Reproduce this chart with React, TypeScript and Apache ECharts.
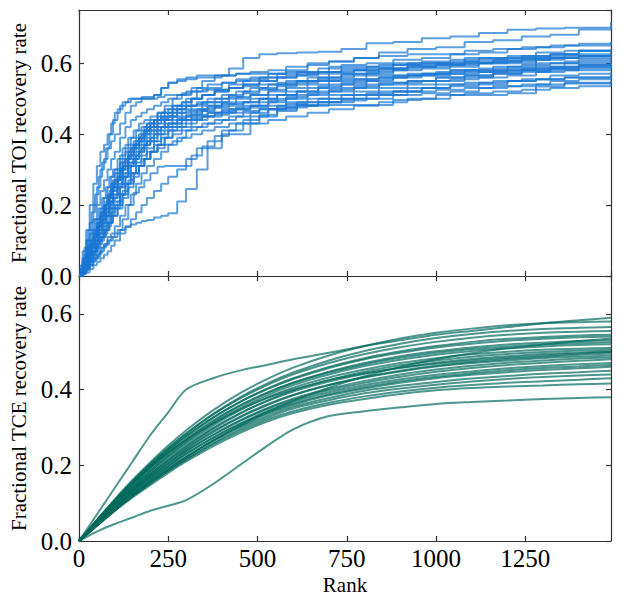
import React, { useEffect, useRef } from "react";
import * as echarts from "echarts";

// ---------- axes ----------
const X_MAX = 1490;
const X_INTERVAL = 250;
const TOI_Y_MAX = 0.75;
const TCE_Y_MAX = 0.7;
const Y_INTERVAL = 0.2;

// ---------- top panel: TOI recovery (step curves) ----------
const TOI_RANKS_A = [0, 10, 20, 30, 40, 50, 60, 70, 80, 90, 100, 115, 130, 145, 160, 175, 190, 210, 230, 250, 275, 300, 330, 360, 400, 440, 480, 530, 580, 640, 700, 770, 840, 920, 1000, 1080, 1160, 1240, 1320, 1400, 1490];
const TOI_RANKS_B = [0, 5, 15, 25, 35, 45, 55, 65, 75, 85, 95, 108, 122, 138, 153, 168, 183, 200, 220, 240, 262, 288, 315, 345, 380, 420, 460, 505, 555, 610, 670, 735, 805, 880, 960, 1040, 1120, 1200, 1280, 1360, 1490];

const TOI_CURVES_A = [
  [0, 0.07, 0.13, 0.2, 0.26, 0.31, 0.35, 0.37, 0.4, 0.43, 0.46, 0.48, 0.49, 0.5, 0.5, 0.505, 0.505, 0.51, 0.53, 0.545, 0.555, 0.56, 0.565, 0.565, 0.565, 0.57, 0.57, 0.57, 0.575, 0.575, 0.59, 0.59, 0.595, 0.6, 0.6, 0.615, 0.615, 0.62, 0.625, 0.635, 0.635],
  [0, 0.05, 0.1, 0.15, 0.2, 0.25, 0.3, 0.33, 0.36, 0.38, 0.4, 0.43, 0.46, 0.48, 0.49, 0.5, 0.5, 0.51, 0.53, 0.545, 0.55, 0.555, 0.56, 0.56, 0.565, 0.57, 0.575, 0.58, 0.59, 0.6, 0.605, 0.615, 0.62, 0.625, 0.625, 0.635, 0.64, 0.645, 0.65, 0.655, 0.66],
  [0, 0.03, 0.06, 0.09, 0.12, 0.15, 0.18, 0.2, 0.23, 0.26, 0.29, 0.32, 0.35, 0.37, 0.39, 0.41, 0.43, 0.44, 0.46, 0.47, 0.48, 0.5, 0.52, 0.53, 0.545, 0.555, 0.56, 0.57, 0.58, 0.595, 0.605, 0.615, 0.63, 0.64, 0.645, 0.66, 0.665, 0.675, 0.68, 0.695, 0.70],
  [0, 0.02, 0.05, 0.08, 0.11, 0.14, 0.17, 0.19, 0.22, 0.24, 0.27, 0.3, 0.33, 0.35, 0.37, 0.39, 0.41, 0.43, 0.44, 0.45, 0.47, 0.48, 0.49, 0.5, 0.51, 0.52, 0.53, 0.54, 0.55, 0.56, 0.57, 0.58, 0.585, 0.595, 0.6, 0.605, 0.61, 0.615, 0.625, 0.635, 0.64],
  [0, 0.03, 0.06, 0.1, 0.13, 0.16, 0.19, 0.22, 0.25, 0.28, 0.3, 0.34, 0.37, 0.39, 0.41, 0.42, 0.43, 0.44, 0.445, 0.45, 0.46, 0.465, 0.47, 0.48, 0.49, 0.5, 0.51, 0.525, 0.54, 0.55, 0.56, 0.57, 0.58, 0.59, 0.595, 0.6, 0.605, 0.61, 0.615, 0.62, 0.625],
  [0, 0.01, 0.03, 0.05, 0.07, 0.1, 0.12, 0.14, 0.17, 0.19, 0.21, 0.25, 0.28, 0.31, 0.34, 0.36, 0.38, 0.4, 0.42, 0.43, 0.445, 0.455, 0.465, 0.475, 0.485, 0.49, 0.5, 0.51, 0.52, 0.53, 0.54, 0.55, 0.56, 0.57, 0.575, 0.58, 0.59, 0.595, 0.6, 0.61, 0.615],
  [0, 0.01, 0.02, 0.04, 0.06, 0.08, 0.1, 0.12, 0.14, 0.17, 0.19, 0.23, 0.26, 0.29, 0.32, 0.34, 0.36, 0.38, 0.4, 0.42, 0.43, 0.44, 0.45, 0.46, 0.47, 0.475, 0.48, 0.49, 0.5, 0.51, 0.52, 0.53, 0.54, 0.55, 0.56, 0.565, 0.575, 0.58, 0.585, 0.595, 0.6],
  [0, 0.01, 0.03, 0.05, 0.07, 0.09, 0.11, 0.13, 0.15, 0.18, 0.2, 0.23, 0.26, 0.29, 0.31, 0.33, 0.35, 0.37, 0.39, 0.41, 0.42, 0.43, 0.44, 0.45, 0.46, 0.47, 0.48, 0.495, 0.505, 0.515, 0.525, 0.535, 0.545, 0.55, 0.56, 0.565, 0.57, 0.575, 0.58, 0.585, 0.59],
  [0, 0.02, 0.04, 0.07, 0.09, 0.12, 0.14, 0.17, 0.19, 0.21, 0.23, 0.26, 0.29, 0.32, 0.35, 0.37, 0.39, 0.41, 0.42, 0.43, 0.44, 0.45, 0.455, 0.46, 0.465, 0.47, 0.475, 0.48, 0.485, 0.49, 0.5, 0.51, 0.52, 0.53, 0.54, 0.545, 0.55, 0.555, 0.565, 0.57, 0.575],
  [0, 0.01, 0.02, 0.03, 0.05, 0.06, 0.08, 0.09, 0.11, 0.12, 0.14, 0.17, 0.2, 0.23, 0.26, 0.29, 0.31, 0.33, 0.35, 0.37, 0.39, 0.41, 0.42, 0.43, 0.44, 0.45, 0.46, 0.47, 0.475, 0.48, 0.49, 0.5, 0.51, 0.52, 0.525, 0.53, 0.535, 0.54, 0.55, 0.555, 0.56],
  [0, 0.01, 0.02, 0.03, 0.045, 0.055, 0.07, 0.085, 0.1, 0.11, 0.12, 0.13, 0.138, 0.145, 0.15, 0.155, 0.158, 0.165, 0.17, 0.177, 0.21, 0.245, 0.3, 0.36, 0.4, 0.4, 0.43, 0.44, 0.45, 0.46, 0.47, 0.48, 0.49, 0.5, 0.51, 0.515, 0.52, 0.525, 0.53, 0.535, 0.54],
  [0, 0.005, 0.01, 0.02, 0.03, 0.04, 0.05, 0.06, 0.07, 0.085, 0.1, 0.12, 0.14, 0.16, 0.18, 0.2, 0.22, 0.24, 0.26, 0.28, 0.3, 0.33, 0.36, 0.38, 0.41, 0.43, 0.45, 0.47, 0.49, 0.5, 0.51, 0.52, 0.53, 0.54, 0.55, 0.56, 0.57, 0.58, 0.585, 0.59, 0.6],
  [0, 0.02, 0.05, 0.08, 0.11, 0.14, 0.17, 0.2, 0.22, 0.25, 0.27, 0.3, 0.33, 0.36, 0.38, 0.4, 0.42, 0.44, 0.45, 0.46, 0.47, 0.48, 0.485, 0.49, 0.5, 0.505, 0.51, 0.52, 0.53, 0.54, 0.55, 0.555, 0.56, 0.565, 0.57, 0.575, 0.58, 0.585, 0.59, 0.595, 0.6],
  [0, 0.04, 0.08, 0.12, 0.16, 0.2, 0.24, 0.27, 0.3, 0.33, 0.35, 0.39, 0.42, 0.44, 0.45, 0.46, 0.47, 0.48, 0.49, 0.5, 0.51, 0.52, 0.53, 0.54, 0.545, 0.55, 0.555, 0.56, 0.565, 0.57, 0.575, 0.58, 0.585, 0.59, 0.595, 0.6, 0.605, 0.61, 0.615, 0.62, 0.62],
];

const TOI_CURVES_B = [
  [0, 0.03, 0.08, 0.13, 0.18, 0.23, 0.28, 0.32, 0.36, 0.4, 0.44, 0.47, 0.49, 0.5, 0.5, 0.5, 0.5, 0.5, 0.505, 0.51, 0.51, 0.515, 0.52, 0.525, 0.525, 0.53, 0.535, 0.54, 0.545, 0.55, 0.55, 0.555, 0.565, 0.565, 0.57, 0.58, 0.58, 0.585, 0.59, 0.6, 0.605],
  [0, 0.01, 0.04, 0.07, 0.09, 0.12, 0.14, 0.17, 0.2, 0.22, 0.25, 0.28, 0.31, 0.34, 0.37, 0.39, 0.42, 0.44, 0.46, 0.48, 0.5, 0.51, 0.53, 0.55, 0.565, 0.585, 0.615, 0.625, 0.628, 0.63, 0.632, 0.64, 0.656, 0.66, 0.67, 0.675, 0.685, 0.694, 0.698, 0.70, 0.716],
  [0, 0.02, 0.05, 0.08, 0.1, 0.13, 0.16, 0.19, 0.21, 0.24, 0.27, 0.3, 0.33, 0.36, 0.38, 0.4, 0.41, 0.42, 0.44, 0.45, 0.47, 0.48, 0.5, 0.51, 0.525, 0.54, 0.55, 0.56, 0.57, 0.575, 0.585, 0.595, 0.6, 0.61, 0.615, 0.625, 0.63, 0.64, 0.645, 0.65, 0.66],
  [0, 0.01, 0.03, 0.06, 0.08, 0.11, 0.13, 0.16, 0.18, 0.21, 0.23, 0.26, 0.29, 0.32, 0.34, 0.36, 0.38, 0.4, 0.42, 0.44, 0.46, 0.47, 0.48, 0.49, 0.5, 0.51, 0.52, 0.53, 0.54, 0.55, 0.56, 0.57, 0.575, 0.585, 0.59, 0.595, 0.6, 0.605, 0.615, 0.62, 0.63],
  [0, 0.01, 0.04, 0.06, 0.09, 0.11, 0.14, 0.16, 0.19, 0.21, 0.24, 0.27, 0.3, 0.33, 0.36, 0.38, 0.4, 0.42, 0.43, 0.44, 0.45, 0.46, 0.47, 0.48, 0.49, 0.505, 0.515, 0.525, 0.535, 0.545, 0.555, 0.565, 0.57, 0.58, 0.585, 0.59, 0.6, 0.6, 0.61, 0.615, 0.62],
  [0, 0.02, 0.05, 0.08, 0.1, 0.13, 0.15, 0.18, 0.2, 0.23, 0.25, 0.28, 0.31, 0.34, 0.36, 0.38, 0.4, 0.41, 0.42, 0.43, 0.44, 0.45, 0.46, 0.47, 0.48, 0.485, 0.49, 0.5, 0.51, 0.52, 0.535, 0.545, 0.555, 0.565, 0.57, 0.58, 0.585, 0.59, 0.6, 0.605, 0.61],
  [0, 0.01, 0.04, 0.06, 0.08, 0.1, 0.13, 0.15, 0.17, 0.19, 0.22, 0.25, 0.28, 0.31, 0.33, 0.35, 0.37, 0.38, 0.4, 0.41, 0.42, 0.44, 0.455, 0.465, 0.475, 0.48, 0.49, 0.5, 0.51, 0.52, 0.53, 0.54, 0.55, 0.56, 0.565, 0.57, 0.575, 0.58, 0.585, 0.59, 0.595],
  [0, 0.01, 0.02, 0.04, 0.05, 0.07, 0.09, 0.11, 0.13, 0.15, 0.17, 0.2, 0.23, 0.26, 0.29, 0.31, 0.33, 0.35, 0.37, 0.39, 0.41, 0.42, 0.44, 0.45, 0.46, 0.47, 0.48, 0.49, 0.5, 0.51, 0.52, 0.53, 0.54, 0.545, 0.55, 0.555, 0.56, 0.565, 0.575, 0.58, 0.585],
  [0, 0.01, 0.02, 0.04, 0.06, 0.08, 0.1, 0.11, 0.13, 0.15, 0.17, 0.19, 0.22, 0.25, 0.28, 0.31, 0.33, 0.35, 0.37, 0.39, 0.4, 0.41, 0.42, 0.43, 0.44, 0.45, 0.46, 0.47, 0.48, 0.49, 0.5, 0.51, 0.515, 0.52, 0.53, 0.535, 0.54, 0.55, 0.555, 0.56, 0.565],
  [0, 0.01, 0.03, 0.05, 0.07, 0.09, 0.11, 0.13, 0.15, 0.17, 0.19, 0.21, 0.24, 0.27, 0.29, 0.31, 0.33, 0.35, 0.36, 0.37, 0.38, 0.39, 0.4, 0.41, 0.42, 0.43, 0.44, 0.455, 0.465, 0.482, 0.482, 0.482, 0.482, 0.496, 0.5, 0.51, 0.51, 0.515, 0.534, 0.543, 0.55],
  [0, 0.005, 0.015, 0.03, 0.04, 0.05, 0.065, 0.08, 0.09, 0.1, 0.11, 0.13, 0.16, 0.2, 0.235, 0.25, 0.27, 0.29, 0.308, 0.31, 0.31, 0.31, 0.34, 0.365, 0.395, 0.41, 0.43, 0.45, 0.47, 0.48, 0.49, 0.5, 0.51, 0.52, 0.53, 0.54, 0.545, 0.55, 0.555, 0.56, 0.57],
  [0, 0.02, 0.06, 0.1, 0.13, 0.16, 0.19, 0.22, 0.25, 0.28, 0.3, 0.33, 0.36, 0.39, 0.41, 0.43, 0.44, 0.45, 0.46, 0.47, 0.48, 0.49, 0.5, 0.51, 0.52, 0.53, 0.54, 0.55, 0.56, 0.565, 0.575, 0.58, 0.585, 0.595, 0.6, 0.605, 0.61, 0.615, 0.62, 0.625, 0.63],
  [0, 0.01, 0.03, 0.05, 0.08, 0.1, 0.12, 0.15, 0.17, 0.2, 0.22, 0.25, 0.28, 0.31, 0.33, 0.35, 0.37, 0.39, 0.41, 0.42, 0.43, 0.44, 0.445, 0.45, 0.455, 0.46, 0.465, 0.47, 0.475, 0.48, 0.49, 0.495, 0.5, 0.51, 0.515, 0.52, 0.53, 0.535, 0.54, 0.545, 0.55],
  [0, 0.01, 0.04, 0.07, 0.1, 0.12, 0.15, 0.18, 0.2, 0.23, 0.26, 0.29, 0.32, 0.35, 0.37, 0.39, 0.41, 0.43, 0.45, 0.46, 0.48, 0.49, 0.5, 0.51, 0.52, 0.53, 0.54, 0.55, 0.56, 0.57, 0.575, 0.585, 0.59, 0.6, 0.605, 0.61, 0.615, 0.62, 0.63, 0.635, 0.64],
];

// ---------- bottom panel: TCE recovery (smooth curves) ----------
const TCE_RANKS = [0, 50, 100, 150, 200, 250, 300, 375, 450, 525, 600, 700, 800, 900, 1000, 1100, 1200, 1300, 1400, 1490];

const TCE_CURVES = [
  [0, 0.07, 0.14, 0.21, 0.28, 0.34, 0.40, 0.43, 0.45, 0.465, 0.48, 0.497, 0.515, 0.53, 0.545, 0.555, 0.565, 0.575, 0.583, 0.59],
  [0, 0.056, 0.11, 0.161, 0.208, 0.252, 0.292, 0.345, 0.39, 0.427, 0.458, 0.49, 0.515, 0.535, 0.55, 0.561, 0.57, 0.575, 0.578, 0.58],
  [0, 0.053, 0.105, 0.155, 0.201, 0.244, 0.283, 0.335, 0.379, 0.415, 0.445, 0.477, 0.502, 0.521, 0.536, 0.547, 0.555, 0.56, 0.563, 0.565],
  [0, 0.055, 0.108, 0.158, 0.204, 0.246, 0.284, 0.334, 0.376, 0.411, 0.44, 0.47, 0.494, 0.512, 0.526, 0.537, 0.545, 0.55, 0.553, 0.555],
  [0, 0.052, 0.103, 0.152, 0.197, 0.238, 0.276, 0.325, 0.367, 0.402, 0.43, 0.46, 0.483, 0.501, 0.515, 0.526, 0.534, 0.539, 0.543, 0.545],
  [0, 0.054, 0.106, 0.155, 0.2, 0.24, 0.277, 0.326, 0.367, 0.4, 0.428, 0.457, 0.48, 0.497, 0.511, 0.521, 0.529, 0.534, 0.538, 0.54],
  [0, 0.05, 0.1, 0.147, 0.19, 0.23, 0.267, 0.315, 0.356, 0.39, 0.418, 0.447, 0.47, 0.488, 0.501, 0.511, 0.519, 0.524, 0.528, 0.53],
  [0, 0.052, 0.102, 0.15, 0.194, 0.234, 0.27, 0.318, 0.358, 0.391, 0.418, 0.445, 0.467, 0.484, 0.497, 0.507, 0.514, 0.519, 0.523, 0.525],
  [0, 0.048, 0.096, 0.142, 0.185, 0.225, 0.262, 0.31, 0.35, 0.384, 0.412, 0.44, 0.462, 0.479, 0.492, 0.502, 0.509, 0.514, 0.518, 0.52],
  [0, 0.05, 0.098, 0.143, 0.185, 0.223, 0.258, 0.305, 0.345, 0.378, 0.405, 0.432, 0.453, 0.47, 0.483, 0.493, 0.5, 0.505, 0.508, 0.51],
  [0, 0.046, 0.092, 0.136, 0.177, 0.214, 0.249, 0.296, 0.336, 0.37, 0.398, 0.425, 0.447, 0.464, 0.477, 0.487, 0.494, 0.499, 0.503, 0.505],
  [0, 0.048, 0.095, 0.14, 0.18, 0.218, 0.252, 0.298, 0.337, 0.369, 0.395, 0.421, 0.442, 0.458, 0.471, 0.481, 0.488, 0.494, 0.498, 0.50],
  [0, 0.045, 0.09, 0.133, 0.172, 0.208, 0.242, 0.287, 0.326, 0.358, 0.385, 0.412, 0.433, 0.45, 0.463, 0.473, 0.481, 0.487, 0.492, 0.495],
  [0, 0.047, 0.093, 0.136, 0.176, 0.212, 0.245, 0.29, 0.328, 0.36, 0.386, 0.412, 0.432, 0.448, 0.461, 0.47, 0.477, 0.483, 0.487, 0.49],
  [0, 0.044, 0.088, 0.13, 0.168, 0.203, 0.236, 0.28, 0.318, 0.35, 0.376, 0.402, 0.423, 0.44, 0.453, 0.463, 0.471, 0.477, 0.482, 0.485],
  [0, 0.046, 0.09, 0.132, 0.17, 0.205, 0.238, 0.28, 0.317, 0.348, 0.373, 0.398, 0.418, 0.434, 0.447, 0.457, 0.465, 0.471, 0.476, 0.48],
  [0, 0.043, 0.085, 0.125, 0.162, 0.197, 0.23, 0.273, 0.31, 0.342, 0.368, 0.393, 0.412, 0.427, 0.439, 0.448, 0.456, 0.462, 0.467, 0.47],
  [0, 0.045, 0.088, 0.128, 0.165, 0.198, 0.23, 0.272, 0.308, 0.338, 0.363, 0.388, 0.407, 0.422, 0.434, 0.443, 0.451, 0.457, 0.461, 0.465],
  [0, 0.041, 0.082, 0.12, 0.157, 0.19, 0.222, 0.265, 0.303, 0.335, 0.36, 0.385, 0.403, 0.418, 0.43, 0.439, 0.446, 0.452, 0.456, 0.46],
  [0, 0.043, 0.085, 0.124, 0.16, 0.193, 0.223, 0.264, 0.3, 0.33, 0.355, 0.378, 0.397, 0.41, 0.42, 0.429, 0.436, 0.442, 0.446, 0.45],
  [0, 0.04, 0.08, 0.118, 0.152, 0.185, 0.215, 0.258, 0.295, 0.325, 0.35, 0.372, 0.39, 0.403, 0.413, 0.421, 0.428, 0.433, 0.437, 0.44],
  [0, 0.042, 0.083, 0.12, 0.155, 0.186, 0.215, 0.255, 0.29, 0.32, 0.343, 0.365, 0.382, 0.395, 0.405, 0.412, 0.418, 0.422, 0.426, 0.43],
  [0, 0.04, 0.08, 0.115, 0.148, 0.18, 0.21, 0.25, 0.285, 0.315, 0.338, 0.36, 0.375, 0.388, 0.398, 0.404, 0.408, 0.411, 0.414, 0.416],
  [0, 0.025, 0.045, 0.062, 0.08, 0.093, 0.108, 0.15, 0.2, 0.25, 0.295, 0.33, 0.343, 0.353, 0.362, 0.367, 0.371, 0.375, 0.378, 0.38],
  [0, 0.055, 0.105, 0.152, 0.195, 0.233, 0.266, 0.31, 0.347, 0.377, 0.4, 0.425, 0.443, 0.457, 0.468, 0.477, 0.484, 0.49, 0.495, 0.50],
  [0, 0.04, 0.08, 0.118, 0.154, 0.188, 0.22, 0.265, 0.305, 0.34, 0.37, 0.405, 0.435, 0.46, 0.48, 0.496, 0.509, 0.519, 0.528, 0.535],
];

const TOI_COLOR = "#1976D2";
const TCE_COLOR = "#00695C";
const FONT = "'Liberation Serif', 'DejaVu Serif', serif";
const AXIS_COLOR = "#333333";

export default function App() {
  const ref = useRef<HTMLDivElement>(null);

  useEffect(() => {
    if (!ref.current) return;
    const chart = echarts.init(ref.current, null, { renderer: "svg" });

    const lineStyle = { color: AXIS_COLOR, width: 1.2 };
    const xAxisBase = (gridIndex: number, position: string, showLabel: boolean) => ({
      gridIndex,
      type: "value",
      position,
      min: 0,
      max: X_MAX,
      interval: X_INTERVAL,
      axisLine: { show: true, onZero: false, lineStyle },
      axisTick: { show: true, inside: true, length: 5, lineStyle },
      splitLine: { show: false },
      axisLabel: {
        show: showLabel,
        fontFamily: FONT,
        fontSize: 25,
        color: "#000",
        margin: 5,
        showMaxLabel: false,
        formatter: (v: number) => String(Math.round(v)),
      },
    });
    const yAxisBase = (gridIndex: number, position: string, showLabel: boolean, max: number) => ({
      gridIndex,
      type: "value",
      position,
      min: 0,
      max,
      interval: Y_INTERVAL,
      axisLine: { show: true, onZero: false, lineStyle },
      axisTick: { show: true, inside: true, length: 5, lineStyle },
      splitLine: { show: false },
      axisLabel: {
        show: showLabel,
        fontFamily: FONT,
        fontSize: 25,
        color: "#000",
        margin: 7,
        showMaxLabel: false,
        formatter: (v: number) => v.toFixed(1),
      },
    });

    const mkTop = (ranks: number[]) => (vals: number[]) => ({
      type: "line",
      xAxisIndex: 0,
      yAxisIndex: 0,
      step: "end",
      symbol: "none",
      showSymbol: false,
      silent: true,
      data: vals.map((v, i) => [ranks[i], v]),
      lineStyle: { color: TOI_COLOR, width: 2, opacity: 0.7 },
    });

    const series: any[] = [
      ...TOI_CURVES_A.map(mkTop(TOI_RANKS_A)),
      ...TOI_CURVES_B.map(mkTop(TOI_RANKS_B)),
      ...TCE_CURVES.map((vals) => ({
        type: "line",
        xAxisIndex: 2,
        yAxisIndex: 2,
        smooth: 0.3,
        symbol: "none",
        showSymbol: false,
        silent: true,
        data: vals.map((v, i) => [TCE_RANKS[i], v]),
        lineStyle: { color: TCE_COLOR, width: 2, opacity: 0.7 },
      })),
    ];

    const nameStyle = { fontFamily: FONT, fontSize: 21, color: "#000" };

    chart.setOption({
      animation: false,
      backgroundColor: "#ffffff",
      grid: [
        { left: 79, right: 11, top: 10, height: 266 },
        { left: 79, right: 11, top: 276, height: 265 },
      ],
      xAxis: [
        xAxisBase(0, "bottom", false),
        xAxisBase(0, "top", false),
        {
          ...xAxisBase(1, "bottom", true),
          name: "Rank",
          nameLocation: "middle",
          nameGap: 33,
          nameTextStyle: nameStyle,
        },
        xAxisBase(1, "top", false),
      ],
      yAxis: [
        {
          ...yAxisBase(0, "left", true, TOI_Y_MAX),
          name: "Fractional TOI recovery rate",
          nameLocation: "middle",
          nameGap: 42,
          nameTextStyle: nameStyle,
        },
        yAxisBase(0, "right", false, TOI_Y_MAX),
        {
          ...yAxisBase(1, "left", true, TCE_Y_MAX),
          name: "Fractional TCE recovery rate",
          nameLocation: "middle",
          nameGap: 44,
          nameTextStyle: nameStyle,
        },
        yAxisBase(1, "right", false, TCE_Y_MAX),
      ],
      series,
    });

    return () => chart.dispose();
  }, []);

  return (
    <div
      ref={ref}
      style={{ position: "fixed", left: 0, top: 0, width: 622, height: 598, background: "#fff" }}
    />
  );
}
